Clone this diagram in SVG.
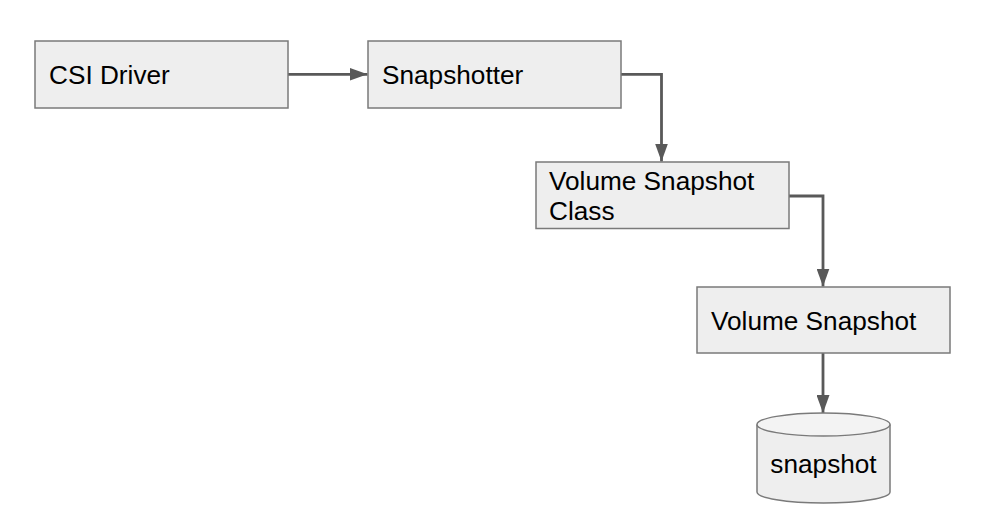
<svg xmlns="http://www.w3.org/2000/svg" width="1004" height="521" viewBox="0 0 1004 521">
<style>
  .box { fill: #eeeeee; stroke: #7a7a7a; stroke-width: 1.5; }
  .lbl { font-family: "Liberation Sans", Arial, sans-serif; font-size: 26.2px; fill: #000000; }
  .conn { fill: none; stroke: #595959; stroke-width: 2.8; }
</style>
<defs>
  <marker id="arrow" markerUnits="userSpaceOnUse" markerWidth="18" markerHeight="13" refX="18" refY="6.5" orient="auto">
    <path d="M0,0 L18,6.5 L0,13 Z" fill="#595959"/>
  </marker>
</defs>
<rect width="1004" height="521" fill="#ffffff"/>
<g id="connectors">
  <path class="conn" d="M288,74.3 H367.5" marker-end="url(#arrow)"/>
  <path class="conn" d="M621,74.3 H661.5 V161.5" marker-end="url(#arrow)"/>
  <path class="conn" d="M789,196 H823 V286.5" marker-end="url(#arrow)"/>
  <path class="conn" d="M823,353 V413" marker-end="url(#arrow)"/>
</g>
<g id="csi-driver">
  <rect class="box" x="35" y="41" width="253" height="67"/>
  <text class="lbl" x="49" y="84">CSI Driver</text>
</g>
<g id="snapshotter">
  <rect class="box" x="368" y="41" width="253" height="67"/>
  <text class="lbl" x="382" y="84">Snapshotter</text>
</g>
<g id="volume-snapshot-class">
  <rect class="box" x="536" y="162" width="253" height="66.5"/>
  <text class="lbl" x="549" y="189.5">Volume Snapshot</text>
  <text class="lbl" x="549" y="219.5">Class</text>
</g>
<g id="volume-snapshot">
  <rect class="box" x="697" y="287" width="253" height="66"/>
  <text class="lbl" x="711" y="330">Volume Snapshot</text>
</g>
<g id="snapshot">
  <path class="box" d="M757,424.5 V492 A66.5,11 0 0 0 890,492 V424.5"/>
  <ellipse cx="823.5" cy="424.5" rx="66.5" ry="11.5" fill="#f3f3f3" stroke="#7a7a7a" stroke-width="1.5"/>
  <text class="lbl" x="823.5" y="473" text-anchor="middle">snapshot</text>
</g>
</svg>
